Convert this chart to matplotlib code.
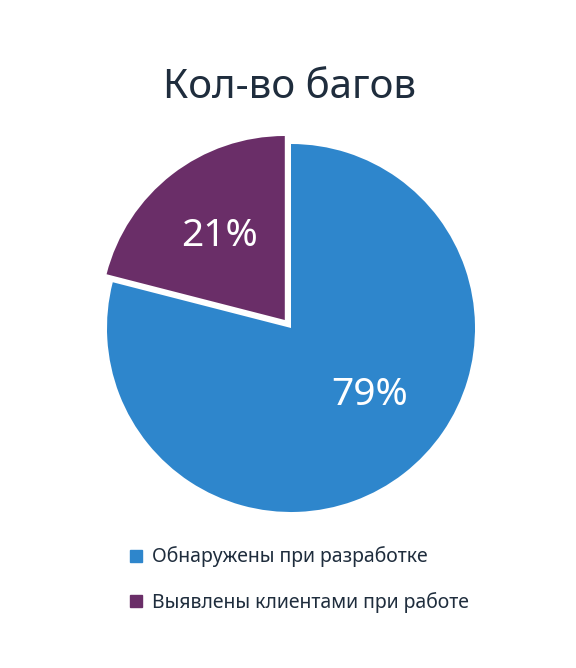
import numpy as np
import matplotlib.pyplot as plt
from matplotlib.lines import Line2D

# chart data
labels = ["Обнаружены при разработке", "Выявлены клиентами при работе"]
values = [79, 21]
colors = ["#2E86CC", "#6A2E68"]
explode = [0, 0.055]

title = "Кол-во багов"

plt.rcParams['font.family'] = ['Noto Sans', 'DejaVu Sans']

fig = plt.figure(figsize=(5.76, 6.68), dpi=100)
W, H = 576, 668

# pie axes: centre at (291, 328) px from top, radius ~184 px
cx, cy, r = 291, H - 328, 184
half = r * 1.1
ax = fig.add_axes([(cx - half) / W, (cy - half) / H, 2 * half / W, 2 * half / H])

wedges, texts, autotexts = ax.pie(
    values,
    colors=colors,
    explode=explode,
    startangle=90,
    counterclock=False,
    radius=1,
    autopct='%d%%',
    pctdistance=0.58,
    textprops={'color': 'white', 'fontsize': 28},
)

# excel puts the big slice's label a bit closer to the horizontal
w = wedges[0]
ang = np.deg2rad((w.theta1 + w.theta2) / 2 + 12)
autotexts[0].set_position((0.56 * np.cos(ang), 0.56 * np.sin(ang)))

ax.set_xlim(-1.1, 1.1)
ax.set_ylim(-1.1, 1.1)
ax.set_aspect('equal')
ax.axis('off')

fig.text(0.503, 1 - 88 / H, title, ha='center', va='center',
         fontsize=29, color='#1F2D3D')

handles = [Line2D([0], [0], marker='s', linestyle='none', markersize=8,
                  markerfacecolor=c, markeredgecolor=c) for c in colors]
fig.legend(handles, labels, loc='upper left',
           bbox_to_anchor=(111 / W, 1 - 529 / H),
           frameon=False, fontsize=14, labelcolor='#1F2D3D',
           handlelength=0.8, handletextpad=0.4, labelspacing=1.25)

fig.savefig("out.png", dpi=100, facecolor='white')
